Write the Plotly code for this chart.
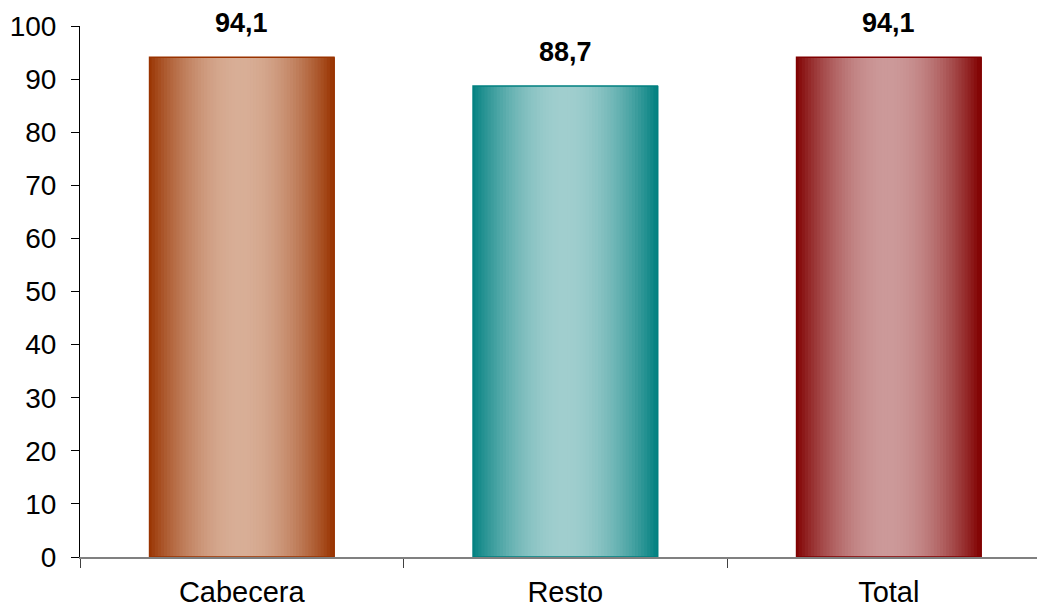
import numpy as np
import plotly.graph_objects as go

categories = ["Cabecera", "Resto", "Total"]
values = [94.1, 88.7, 94.1]
labels = ["94,1", "88,7", "94,1"]

edge_colors = [(153, 51, 0), (0, 128, 128), (128, 0, 0)]
center_colors = [(216, 174, 150), (160, 206, 206), (204, 153, 153)]

BAR_W = 0.57
N = 60
step = BAR_W / N

fig = go.Figure()
for i in range(N):
    t = (i + 0.5) / N
    f = np.sin(np.pi * t) ** 0.9
    cols = []
    for e, c in zip(edge_colors, center_colors):
        r, g, b = [int(round(e[k] + (c[k] - e[k]) * f)) for k in range(3)]
        cols.append(f"rgb({r},{g},{b})")
    fig.add_trace(go.Bar(
        x=categories, y=values,
        width=step * 1.6, offset=-BAR_W / 2 + i * step - step * 0.3 if i > 0 else -BAR_W / 2,
        marker=dict(color=cols, line=dict(width=0)),
        showlegend=False, hoverinfo="skip",
    ))

# outline
fig.add_trace(go.Bar(
    x=categories, y=values, width=BAR_W, offset=-BAR_W / 2,
    marker=dict(color="rgba(0,0,0,0)",
                line=dict(width=1.5, color=[f"rgb{e}" for e in edge_colors])),
    showlegend=False, hoverinfo="skip",
))

for c, v, lab in zip(categories, values, labels):
    fig.add_annotation(x=c, y=v, text=f"<b>{lab}</b>", showarrow=False,
                       yshift=34, font=dict(size=27, color="black",
                                            family="Liberation Sans, Arial, sans-serif"))

# page body has an 8px margin, so the figure is sized/offset accordingly
fig.update_layout(
    width=1037, height=599,
    margin=dict(l=72, r=0, t=18, b=50, autoexpand=False),
    barmode="overlay",
    plot_bgcolor="white", paper_bgcolor="white",
    font=dict(family="Liberation Sans, Arial, sans-serif", size=28, color="black"),
    hovermode=False,
    xaxis=dict(type="category", range=[-0.5, 2.483], showline=True, linecolor="#808080",
               linewidth=1.5, ticks="outside", tickson="boundaries", ticklen=9,
               tickcolor="#404040", showgrid=False, zeroline=False, automargin=False,
               tickfont=dict(size=29), ticklabelstandoff=8),
    yaxis=dict(range=[0, 100], dtick=10, showline=True, linecolor="black", linewidth=1,
               ticks="outside", ticklen=8, tickcolor="black", showgrid=False,
               zeroline=False, automargin=False,
               tickfont=dict(size=28), ticklabelstandoff=9),
)
fig.write_html("out.html")
